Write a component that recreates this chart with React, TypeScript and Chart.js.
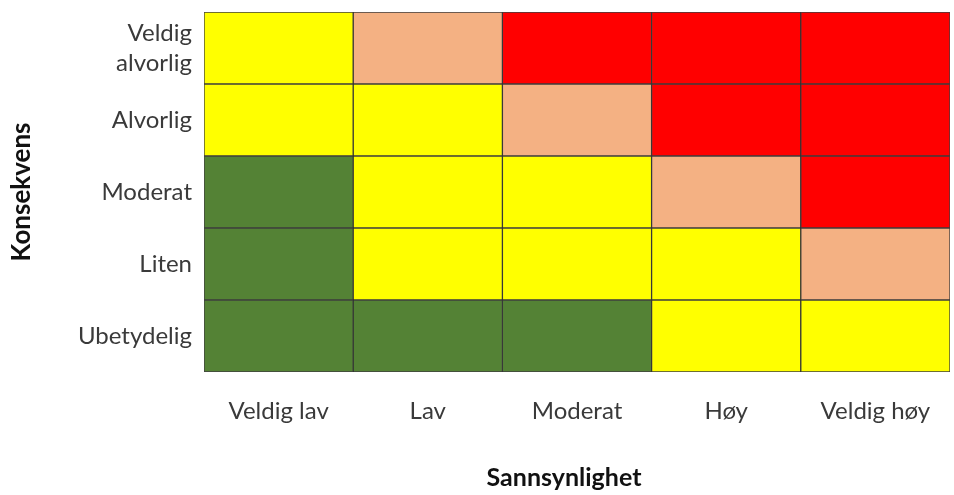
import React, { useEffect, useRef } from "react";
import { Chart, registerables } from "chart.js";

Chart.register(...registerables);

// Likelihood (x axis) categories
const likelihoodLabels = ["Veldig lav", "Lav", "Moderat", "Høy", "Veldig høy"];
// Consequence (y axis) categories, from bottom to top
const consequenceLabels: (string | string[])[] = [
  "Ubetydelig",
  "Liten",
  "Moderat",
  "Alvorlig",
  ["Veldig", "alvorlig"],
];

// Risk level per cell (1 = low/green, 2 = medium/yellow, 3 = high/peach, 4 = very high/red)
const riskUbetydelig = [1, 1, 1, 2, 2];
const riskLiten = [1, 2, 2, 2, 3];
const riskModerat = [1, 2, 2, 3, 4];
const riskAlvorlig = [2, 2, 3, 4, 4];
const riskVeldigAlvorlig = [2, 3, 4, 4, 4];

const riskRows = [riskUbetydelig, riskLiten, riskModerat, riskAlvorlig, riskVeldigAlvorlig];

const riskColors: Record<number, string> = {
  1: "#548235",
  2: "#FFFF00",
  3: "#F4B183",
  4: "#FF0000",
};

const xTitle = "Sannsynlighet";
const yTitle = "Konsekvens";

const FONT = 'Lato, "Open Sans", "DejaVu Sans", sans-serif';

export default function App() {
  const ref = useRef<HTMLCanvasElement | null>(null);

  useEffect(() => {
    if (!ref.current) return;

    const datasets = riskRows.map((row, r) => ({
      label: Array.isArray(consequenceLabels[r])
        ? (consequenceLabels[r] as string[]).join(" ")
        : (consequenceLabels[r] as string),
      data: likelihoodLabels.map(() => [r, r + 1] as [number, number]),
      backgroundColor: row.map((lvl) => riskColors[lvl]),
      borderColor: "rgba(15,15,15,0.8)",
      borderWidth: 1,
      borderSkipped: false as const,
      barPercentage: 1,
      categoryPercentage: 1,
      grouped: false,
    }));

    const xTitlePlugin = {
      id: "xTitlePlugin",
      afterDraw(chart: any) {
        const { ctx, chartArea } = chart;
        ctx.save();
        ctx.font = `bold 25px ${FONT}`;
        ctx.fillStyle = "#111111";
        ctx.textAlign = "center";
        ctx.textBaseline = "middle";
        ctx.fillText(xTitle, (chartArea.left + chartArea.right) / 2 - 13, chart.height - 17);
        ctx.restore();
      },
    };

    const chart = new Chart(ref.current, {
      type: "bar",
      data: { labels: likelihoodLabels, datasets },
      plugins: [xTitlePlugin],
      options: {
        animation: false,
        responsive: false,
        maintainAspectRatio: false,
        layout: { padding: { top: 12, right: 4, bottom: 0, left: 0 } },
        plugins: {
          legend: { display: false },
          tooltip: { enabled: false },
        },
        scales: {
          x: {
            type: "category",
            offset: true,
            grid: { display: false, drawTicks: false },
            border: { display: false },
            ticks: {
              padding: 25,
              color: "#3a3a3a",
              font: { family: FONT, size: 24 },
              maxRotation: 0,
              autoSkip: false,
            },
            afterFit: (scale: any) => {
              scale.height = 123;
              scale.paddingLeft = 0;
              scale.paddingRight = 0;
            },
          },
          y: {
            type: "linear",
            min: 0,
            max: 5,
            grid: { display: false, drawTicks: false },
            border: { display: false },
            title: {
              display: true,
              text: yTitle,
              color: "#111111",
              font: { family: FONT, size: 26, weight: "bold" },
              padding: { top: 6, bottom: 0 },
            },
            afterBuildTicks: (scale: any) => {
              scale.ticks = consequenceLabels.map((_, i) => ({ value: i + 0.5 }));
            },
            ticks: {
              padding: 12,
              color: "#3a3a3a",
              font: { family: FONT, size: 24, lineHeight: 1.25 },
              autoSkip: false,
              callback: (_v: any, i: number) => consequenceLabels[i] as any,
            },
            afterFit: (scale: any) => {
              scale.width = 204;
              scale.paddingTop = 0;
              scale.paddingBottom = 0;
            },
          },
        },
      },
    });

    return () => chart.destroy();
  }, []);

  return (
    <div style={{ position: "absolute", left: 0, top: 0, width: 954, height: 495, background: "#fff" }}>
      <canvas ref={ref} width={954} height={495} style={{ display: "block" }} />
    </div>
  );
}
